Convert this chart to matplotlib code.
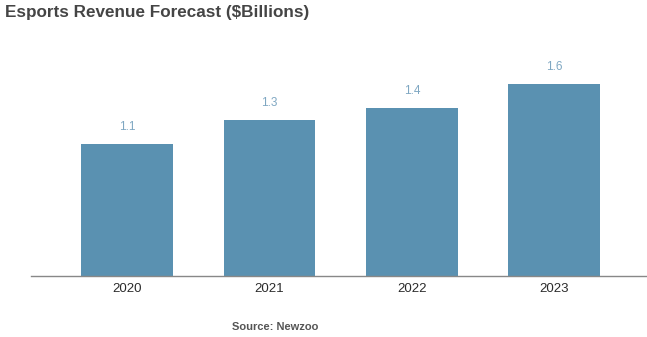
import matplotlib
matplotlib.use("Agg")
from matplotlib import pyplot as plt

years = ["2020", "2021", "2022", "2023"]
revenue = [1.1, 1.3, 1.4, 1.6]  # $ billions

plt.rcParams['font.family'] = ['Liberation Sans', 'DejaVu Sans']

W, H = 647, 337
fig = plt.figure(figsize=(W / 100, H / 100), dpi=100)
ax = fig.add_axes([31 / W, (H - 276) / H, (W - 31) / W, (276 - 36) / H])

x = range(len(years))
bars = ax.bar(x, revenue, width=0.645, color="#5a91b1")

# value labels above the bars
for rect, val in zip(bars, revenue):
    ax.annotate(f"{val:.1f}", (rect.get_x() + rect.get_width() / 2, val),
                xytext=(0, 8), textcoords="offset points", ha="center",
                va="bottom", fontsize=8.5, color="#7fa7c2")

ax.set_xlim(-0.674, 3.65)
ax.set_ylim(0, 2.0)
ax.set_xticks(list(x))
ax.set_xticklabels(years, fontsize=9.5, color="#2b2b2b")
ax.tick_params(axis="x", length=0, pad=5)
ax.set_yticks([])
for side in ["top", "right", "left"]:
    ax.spines[side].set_visible(False)
ax.spines["bottom"].set_color("#888888")
ax.spines["bottom"].set_linewidth(1.0)

fig.text(5 / W, 1 - 12 / H, "Esports Revenue Forecast ($Billions)",
         fontsize=12.3, fontweight="bold", color="#454545", ha="left", va="center")
fig.text(275 / W, 1 - 327 / H, "Source: Newzoo", fontsize=8,
         fontweight="bold", color="#555555", ha="center", va="center")

fig.savefig("out.png", dpi=100)
